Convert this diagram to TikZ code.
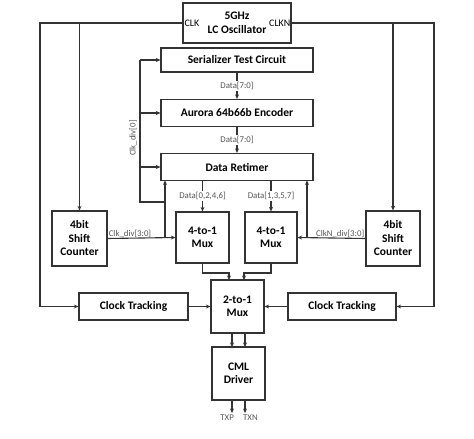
\documentclass[tikz,border=0pt]{standalone}
\usepackage{fontspec}
\setmainfont{Carlito}
\usetikzlibrary{arrows.meta}

\definecolor{wire}{HTML}{333333}
\definecolor{lbltext}{HTML}{555555}

\tikzset{
  blk/.style={draw=wire, line width=1.2pt, inner sep=0pt, align=center,
    font=\fontsize{11.5}{13.5}\selectfont\bfseries},
  lbl/.style={font=\fontsize{8.8}{10}\selectfont, text=lbltext, inner sep=1pt},
  wr/.style={draw=wire, line width=1.1pt},
  ar/.style={wr, -{Stealth[length=4.5pt,width=4pt]}}
}

\begin{document}
\begin{tikzpicture}[x=1pt,y=-1pt]
    \useasboundingbox (0,0) rectangle (474,439);
    % blocks
    \node [blk, minimum width=108pt, minimum height=40pt] (osc) at (237,23) {5GHz\\LC Oscillator};
    \node [blk, minimum width=152pt, minimum height=24pt] (ser) at (237,60) {Serializer Test Circuit};
    \node [blk, minimum width=152pt, minimum height=27pt] (aur) at (237,113) {Aurora 64b66b Encoder};
    \node [blk, minimum width=152pt, minimum height=27pt] (ret) at (237,167) {Data Retimer};
    \node [blk, minimum width=55pt, minimum height=55pt] (lsc) at (79.5,238.5) {4bit\\Shift\\Counter};
    \node [blk, minimum width=54pt, minimum height=55pt] (rsc) at (393,238.5) {4bit\\Shift\\Counter};
    \node [blk, minimum width=53pt, minimum height=51pt] (lmux) at (202.5,237.5) {4-to-1\\Mux};
    \node [blk, minimum width=52pt, minimum height=51pt] (rmux) at (271,237.5) {4-to-1\\Mux};
    \node [blk, minimum width=109pt, minimum height=27pt] (lct) at (133.5,306.5) {Clock Tracking};
    \node [blk, minimum width=108pt, minimum height=27pt] (rct) at (342,306.5) {Clock Tracking};
    \node [blk, minimum width=53pt, minimum height=53pt] (mtwo) at (237.5,306.5) {2-to-1\\Mux};
    \node [blk, minimum width=53pt, minimum height=53pt] (cml) at (238.5,373.5) {CML\\Driver};
    % oscillator ports
    \node [anchor=west, font=\fontsize{10}{12}\selectfont, inner sep=2pt] (clk) at (osc.west) {CLK};
    \node [anchor=east, font=\fontsize{10}{12}\selectfont, inner sep=1pt] (clkn) at (osc.east) {CLKN};
    \coordinate (clkL) at (40,23);
    \coordinate (clkR) at (434,23);
    % clock distribution
    \draw [ar] (osc.west) -- (clkL) |- (lct.west);
    \draw [ar] (lsc.north |- clkL) -- (lsc.north);
    \draw [ar] (osc.east) -- (clkR) |- (rct.east);
    \draw [ar] (rsc.north |- clkR) -- (rsc.north);
    % divided clocks
    \draw [ar] (lsc.east) -- (lmux.west);
    \node [lbl, anchor=south west] (clkdivl) at (lsc.east) {Clk\_div[3:0]};
    \draw [ar] (165,238) -- (165,180.5);
    \draw [wr] (165,202) -- (140,202) -- (140,60);
    \draw [ar] (140,60) -- (ser.west);
    \draw [ar] (140,113) -- (aur.west);
    \draw [ar] (140,167) -- (ret.west);
    \node [lbl, rotate=90] (clkdiv) at (133,138) {Clk\_div[0]};
    \draw [ar] (rsc.west) -- (rmux.east);
    \node [lbl, anchor=south east] (clkndiv) at (rsc.west) {ClkN\_div[3:0]};
    \draw [ar] (307,238) -- (307,180.5);
    % data path
    \draw [ar] (ser.south) -- node [lbl, fill=white] {Data[7:0]} (aur.north);
    \draw [ar] (aur.south) -- node [lbl, fill=white] {Data[7:0]} (ret.north);
    \draw [ar] (lmux.north |- ret.south) -- node [lbl, fill=white] {Data[0,2,4,6]} (lmux.north);
    \draw [ar] (rmux.north |- ret.south) -- node [lbl, fill=white] {Data[1,3,5,7]} (rmux.north);
    \draw [ar] (lmux.south) -- (202.5,273) -| (229,280);
    \draw [ar] (rmux.south) -- (271,273) -| (244,280);
    \draw [ar] (lct.east) -- (mtwo.west);
    \draw [ar] (rct.west) -- (mtwo.east);
    \draw [ar] (232,333) -- (232,347);
    \draw [ar] (245,333) -- (245,347);
    \draw [ar] (232,400) -- (232,413);
    \draw [ar] (245,400) -- (245,413);
    \node [lbl, anchor=north east] (txp) at (235,414) {TXP};
    \node [lbl, anchor=north west] (txn) at (242,414) {TXN};
\end{tikzpicture}
\end{document}
